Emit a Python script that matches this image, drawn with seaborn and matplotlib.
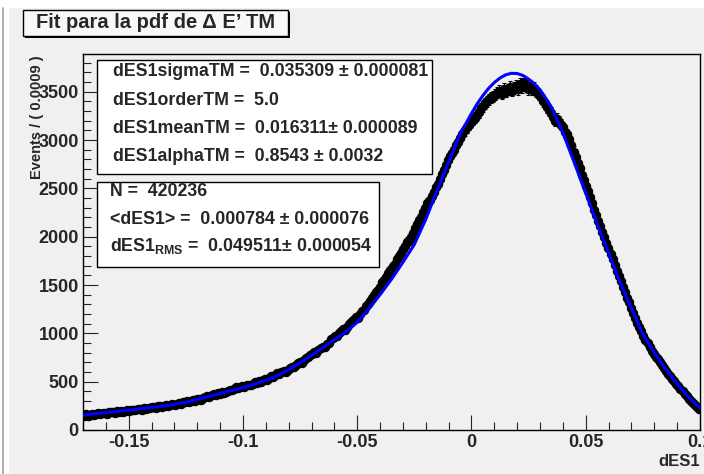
import numpy as np
import matplotlib
matplotlib.use("Agg")
import matplotlib.pyplot as plt
import matplotlib.patches as mpatches
from matplotlib.ticker import MultipleLocator
import seaborn as sns

# histogram of dES1: 300 bins of width 0.0009 starting at -0.17
bin_lo = -0.17
bin_width = 0.0009
counts = [
    150, 162, 148, 158, 170, 160, 165, 175, 168, 172,
    178, 170, 185, 190, 182, 176, 195, 188, 192, 186,
    198, 205, 195, 212, 208, 202, 215, 220, 210, 224,
    218, 230, 228, 240, 235, 226, 245, 250, 238, 252,
    255, 248, 262, 270, 258, 272, 280, 268, 285, 290,
    295, 285, 302, 310, 298, 318, 325, 312, 335, 340,
    352, 340, 360, 372, 365, 380, 375, 390, 382, 398,
    405, 418, 410, 425, 440, 432, 445, 452, 440, 465,
    470, 462, 480, 495, 488, 505, 498, 520, 530, 515,
    540, 555, 548, 570, 585, 575, 600, 612, 598, 625,
    640, 655, 648, 675, 690, 705, 698, 725, 740, 760,
    778, 790, 805, 800, 830, 845, 860, 855, 885, 900,
    940, 955, 975, 968, 1000, 1025, 1040, 1035, 1070, 1095,
    1120, 1140, 1170, 1160, 1200, 1230, 1245, 1280, 1300, 1330,
    1370, 1400, 1430, 1450, 1480, 1530, 1555, 1580, 1620, 1660,
    1700, 1720, 1770, 1800, 1830, 1870, 1900, 1950, 1960, 2000,
    2040, 2090, 2130, 2170, 2200, 2260, 2300, 2350, 2380, 2420,
    2460, 2510, 2550, 2600, 2650, 2690, 2740, 2790, 2830, 2870,
    2900, 2950, 2980, 3020, 3060, 3100, 3130, 3160, 3190, 3210,
    3230, 3260, 3290, 3330, 3350, 3380, 3400, 3420, 3440, 3450,
    3470, 3490, 3510, 3480, 3530, 3500, 3520, 3550, 3510, 3540,
    3560, 3530, 3580, 3550, 3600, 3570, 3530, 3560, 3520, 3540,
    3500, 3470, 3440, 3400, 3380, 3340, 3310, 3280, 3240, 3200,
    3220, 3190, 3160, 3130, 3080, 3060, 3010, 2950, 2880, 2820,
    2760, 2710, 2640, 2590, 2520, 2470, 2410, 2350, 2280, 2220,
    2165, 2110, 2050, 1995, 1935, 1880, 1820, 1765, 1705, 1650,
    1595, 1540, 1480, 1430, 1370, 1320, 1265, 1210, 1160, 1110,
    1065, 1020, 975, 935, 895, 855, 820, 790, 760, 730,
    700, 670, 640, 610, 580, 555, 530, 505, 480, 455,
    425, 400, 375, 350, 325, 300, 280, 260, 240, 220,
]

# fitted pdf
fit_x = [-0.170, -0.165, -0.160, -0.155, -0.150, -0.145, -0.140, -0.135, -0.130, -0.125,
         -0.120, -0.115, -0.110, -0.105, -0.100, -0.095, -0.090, -0.085, -0.080, -0.075,
         -0.070, -0.065, -0.060, -0.055, -0.050, -0.045, -0.040, -0.035, -0.030, -0.025,
         -0.020, -0.015, -0.010, -0.005, 0.000, 0.0025, 0.005, 0.0075, 0.010, 0.0125,
         0.015, 0.0175, 0.020, 0.0225, 0.025, 0.0275, 0.030, 0.035, 0.040, 0.045,
         0.050, 0.055, 0.060, 0.065, 0.070, 0.075, 0.080, 0.085, 0.090, 0.095, 0.100]
fit_y = [155, 168, 181, 193, 205, 219, 233, 248, 266, 288,
         316, 347, 378, 408, 438, 474, 514, 560, 625, 695,
         772, 852, 935, 1015, 1115, 1250, 1400, 1560, 1735, 1920,
         2180, 2480, 2775, 3060, 3275, 3375, 3460, 3535, 3595, 3642,
         3675, 3690, 3688, 3668, 3630, 3583, 3520, 3340, 3075, 2765,
         2450, 2135, 1830, 1530, 1260, 990, 800, 630, 478, 340, 228]

fit_params = [
    "dES1sigmaTM =  0.035309 \u00b1 0.000081",
    "dES1orderTM =  5.0",
    "dES1meanTM =  0.016311\u00b1 0.000089",
    "dES1alphaTM =  0.8543 \u00b1 0.0032",
]
stats_lines = [
    "N =  420236",
    "<dES1> =  0.000784 \u00b1 0.000076",
    "dES1$_{\\rm RMS}$ =  0.049511\u00b1 0.000054",
]
title = "Fit para la pdf de \u0394 E\u2019 TM"

sns.set_style("ticks")
plt.rcParams['font.family'] = ['Liberation Sans', 'DejaVu Sans']
plt.rcParams['font.weight'] = 'bold'
plt.rcParams['mathtext.fontset'] = 'custom'
plt.rcParams['mathtext.rm'] = 'Liberation Sans:bold'
plt.rcParams['mathtext.it'] = 'Liberation Sans:bold'
plt.rcParams['mathtext.bf'] = 'Liberation Sans:bold'

W, H = 704, 474
bg = '#f0f0f0'


def fx(px):
    return px / W


def fy(py):
    return 1 - py / H


fig = plt.figure(figsize=(W / 100, H / 100), dpi=100, facecolor='white')
# canvas background
fig.add_artist(mpatches.Rectangle((fx(9), 0), 1, fy(8), transform=fig.transFigure,
                                  facecolor=bg, edgecolor='none', zorder=0))
fig.add_artist(plt.Line2D([fx(3), fx(3)], [0, fy(8)], transform=fig.transFigure,
                          color='#a0a0a0', lw=1.2))

ax = fig.add_axes([fx(83), fy(430), fx(700) - fx(83), fy(54) - fy(430)])
ax.set_facecolor(bg)

centers = bin_lo + (np.arange(len(counts)) + 0.5) * bin_width
counts_arr = np.array(counts, dtype=float)
ax.errorbar(centers, counts_arr, yerr=np.sqrt(counts_arr), fmt='o', color='black',
            ms=5.8, elinewidth=0.8, capsize=1.5, capthick=0.8, zorder=2)
sns.lineplot(x=fit_x, y=fit_y, ax=ax, color='#0000ff', lw=2.2, zorder=3)

ax.set_xlim(-0.17, 0.1)
ax.set_ylim(0, 3890)
ax.set_xticks([-0.15, -0.1, -0.05, 0, 0.05, 0.1])
ax.set_xticklabels(['-0.15', '-0.1', '-0.05', '0', '0.05', '0.1'])
ax.set_yticks([0, 500, 1000, 1500, 2000, 2500, 3000, 3500])
ax.xaxis.set_minor_locator(MultipleLocator(0.01))
ax.yaxis.set_minor_locator(MultipleLocator(100))
ax.tick_params(which='major', direction='in', length=11, width=0.8, labelsize=13,
               top=False, right=False, pad=3)
ax.tick_params(which='minor', direction='in', length=5.5, width=0.8, top=False, right=False)
for lab in ax.get_xticklabels() + ax.get_yticklabels():
    lab.set_fontweight('bold')
    lab.set_clip_on(False)
for sp in ax.spines.values():
    sp.set_visible(True)
    sp.set_linewidth(1.0)
    sp.set_color('black')
ax.set_xlabel('')
ax.set_ylabel('')

fig.text(fx(700), fy(462), 'dES1', ha='right', va='center', fontsize=12, fontweight='bold')
fig.text(fx(37), fy(55), 'Events / ( 0.0009 )', rotation=90, ha='center', va='top',
         fontsize=10.5, fontweight='bold')

# fit parameter box
fig.add_artist(mpatches.Rectangle((fx(97), fy(174)), fx(432) - fx(97), fy(60) - fy(174),
                                  transform=fig.transFigure, facecolor='white',
                                  edgecolor='black', lw=1.0, zorder=5))
for i, line in enumerate(fit_params):
    fig.text(fx(113), fy(72 + 28.3 * i), line, ha='left', va='center', fontsize=12.8,
             fontweight='bold', zorder=6)

# statistics box
fig.add_artist(mpatches.Rectangle((fx(97), fy(267)), fx(379) - fx(97), fy(182) - fy(267),
                                  transform=fig.transFigure, facecolor='white',
                                  edgecolor='black', lw=1.0, zorder=5))
for i, line in enumerate(stats_lines):
    fig.text(fx(110), fy(192 + 27 * i), line, ha='left', va='center', fontsize=12.8,
             fontweight='bold', zorder=6)

# title box with shadow
fig.add_artist(mpatches.Rectangle((fx(25), fy(38)), fx(290) - fx(25), fy(12) - fy(38),
                                  transform=fig.transFigure, facecolor='black',
                                  edgecolor='none', zorder=5))
fig.add_artist(mpatches.Rectangle((fx(23), fy(36)), fx(288) - fx(23), fy(10) - fy(36),
                                  transform=fig.transFigure, facecolor='#f8f8f8',
                                  edgecolor='black', lw=1.0, zorder=6))
fig.text(fx(155.5), fy(23), title, ha='center', va='center', fontsize=14.5,
         fontweight='bold', zorder=7)

fig.savefig('out.png', dpi=100, facecolor=fig.get_facecolor())
